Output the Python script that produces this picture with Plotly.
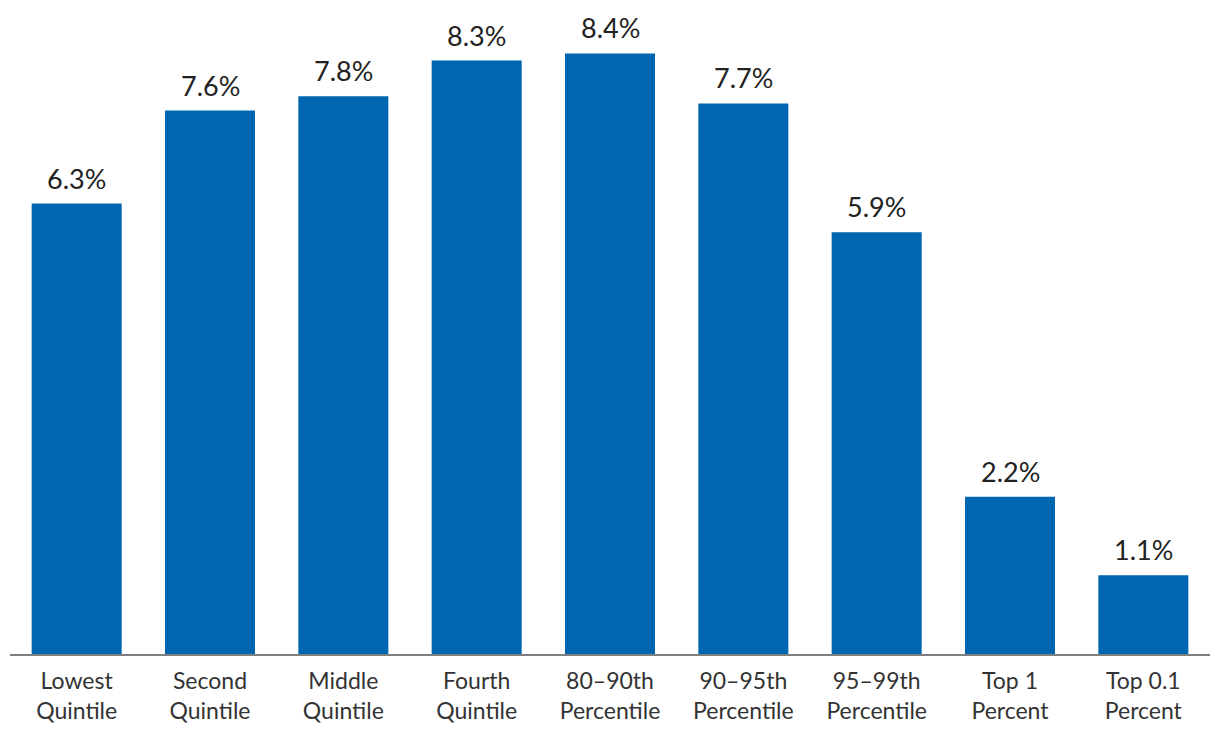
import plotly.graph_objects as go

categories = ["Lowest<br>Quintile", "Second<br>Quintile", "Middle<br>Quintile", "Fourth<br>Quintile",
              "80–90th<br>Percentile", "90–95th<br>Percentile", "95–99th<br>Percentile",
              "Top 1<br>Percent", "Top 0.1<br>Percent"]
values = [6.3, 7.6, 7.8, 8.3, 8.4, 7.7, 5.9, 2.2, 1.1]
value_labels = [f"{v:.1f}%" for v in values]

fig = go.Figure()
fig.add_trace(go.Bar(x=categories, y=values, marker_color="#0066b2", marker_line_width=0,
                     hoverinfo="skip"))
for c, v, t in zip(categories, values, value_labels):
    fig.add_annotation(x=c, y=v, text=t, showarrow=False, yanchor="bottom", yshift=7,
                       font=dict(family="Lato", size=27, color="#222222"))

fig.update_layout(
    width=1212, height=732,
    margin=dict(l=2, r=10, t=0, b=86),
    plot_bgcolor="white", paper_bgcolor="white",
    bargap=0.325, showlegend=False,
    font=dict(family="Lato", color="#333333"),
)
fig.update_xaxes(showline=True, linecolor="#7f7f7f", linewidth=2, ticks="",
                 tickfont=dict(family="Lato", size=23, color="#333333"), ticklabelstandoff=5)
fig.update_yaxes(range=[0, 9.035], visible=False, showgrid=False)
fig.write_html("out.html")
